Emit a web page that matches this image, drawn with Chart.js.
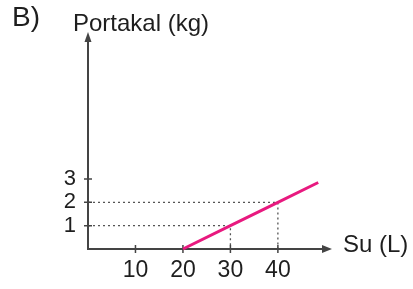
<!DOCTYPE html>
<html>
<head>
<meta charset="utf-8">
<script src="https://cdn.jsdelivr.net/npm/chart.js@4"></script>
<style>
  html, body { margin: 0; background: #fff; }
  #wrap { width: 413px; height: 289px; }
</style>
</head>
<body>
<div id="wrap"><canvas id="c"></canvas></div>
<script>
// chart values
const xTicks = [10, 20, 30, 40];
const yTicks = [1, 2, 3];
const waterL = [20, 30, 40, 48.5];
const orangeKg = [0, 1, 2, 2.85];
// dotted helper lines: [x, y]
const guideX = [30, 40];
const guideY = [1, 2];

const FONT = '"Liberation Sans", Arial, sans-serif';
const INK = '#1e1e1e';
const AXIS = '#444';

// axes with arrows, tick marks, guides and labels
const sketch = {
  id: 'sketch',
  beforeDatasetsDraw(chart) {
    const { ctx, chartArea: a, scales: { x, y } } = chart;
    ctx.save();

    // dotted guides
    ctx.strokeStyle = '#555';
    ctx.lineWidth = 1.3;
    ctx.setLineDash([2, 3]);
    guideX.forEach((gx, i) => {
      const px = x.getPixelForValue(gx);
      const py = y.getPixelForValue(guideY[i]);
      ctx.beginPath();
      ctx.moveTo(a.left, py);
      ctx.lineTo(px, py);
      ctx.lineTo(px, a.bottom);
      ctx.stroke();
    });
    ctx.setLineDash([]);

    // axes
    ctx.strokeStyle = AXIS;
    ctx.fillStyle = AXIS;
    ctx.lineWidth = 2;
    ctx.beginPath();
    ctx.moveTo(a.left, a.top + 6);
    ctx.lineTo(a.left, a.bottom);
    ctx.lineTo(a.right - 6, a.bottom);
    ctx.stroke();

    // arrow heads
    ctx.beginPath();
    ctx.moveTo(a.right, a.bottom);
    ctx.lineTo(a.right - 10, a.bottom - 4);
    ctx.lineTo(a.right - 10, a.bottom + 4);
    ctx.closePath();
    ctx.fill();
    ctx.beginPath();
    ctx.moveTo(a.left, a.top);
    ctx.lineTo(a.left - 3.5, a.top + 10);
    ctx.lineTo(a.left + 3.5, a.top + 10);
    ctx.closePath();
    ctx.fill();

    // tick marks crossing the axes
    ctx.lineWidth = 1.5;
    ctx.beginPath();
    xTicks.forEach(v => {
      const px = x.getPixelForValue(v);
      ctx.moveTo(px, a.bottom - 4);
      ctx.lineTo(px, a.bottom + 4);
    });
    yTicks.forEach(v => {
      const py = y.getPixelForValue(v);
      ctx.moveTo(a.left - 4, py);
      ctx.lineTo(a.left + 4, py);
    });
    ctx.stroke();

    // texts
    ctx.fillStyle = INK;
    ctx.textBaseline = 'alphabetic';
    ctx.textAlign = 'left';
    ctx.font = '28px ' + FONT;
    ctx.fillText('B)', 12, 26);
    ctx.font = '24px ' + FONT;
    ctx.fillText('Portakal (kg)', 73, 31);
    ctx.textBaseline = 'middle';
    ctx.fillText('Su (L)', 343, a.bottom - 4);
    ctx.restore();
  }
};

new Chart(document.getElementById('c'), {
  type: 'scatter',
  data: {
    datasets: [{
      data: waterL.map((v, i) => ({ x: v, y: orangeKg[i] })),
      showLine: true,
      borderColor: '#e8197f',
      borderWidth: 3,
      pointRadius: 0,
      clip: false
    }]
  },
  options: {
    responsive: true,
    maintainAspectRatio: false,
    animation: false,
    layout: { padding: { left: 0, top: 32, right: 81, bottom: 0 } },
    plugins: { legend: { display: false }, tooltip: { enabled: false } },
    scales: {
      x: {
        type: 'linear',
        min: 0,
        max: 51.4,
        grid: { display: false, drawTicks: false },
        border: { display: false },
        afterBuildTicks: s => { s.ticks = xTicks.map(v => ({ value: v })); },
        afterFit: s => { s.height = 40; },
        ticks: {
          padding: 8,
          color: INK,
          font: { family: FONT, size: 23 }
        }
      },
      y: {
        type: 'linear',
        min: 0,
        max: 9.3,
        grid: { display: false, drawTicks: false },
        border: { display: false },
        afterBuildTicks: s => { s.ticks = yTicks.map(v => ({ value: v })); },
        afterFit: s => { s.width = 88; },
        ticks: {
          padding: 12,
          color: INK,
          font: { family: FONT, size: 22 }
        }
      }
    }
  },
  plugins: [sketch]
});
</script>
</body>
</html>
